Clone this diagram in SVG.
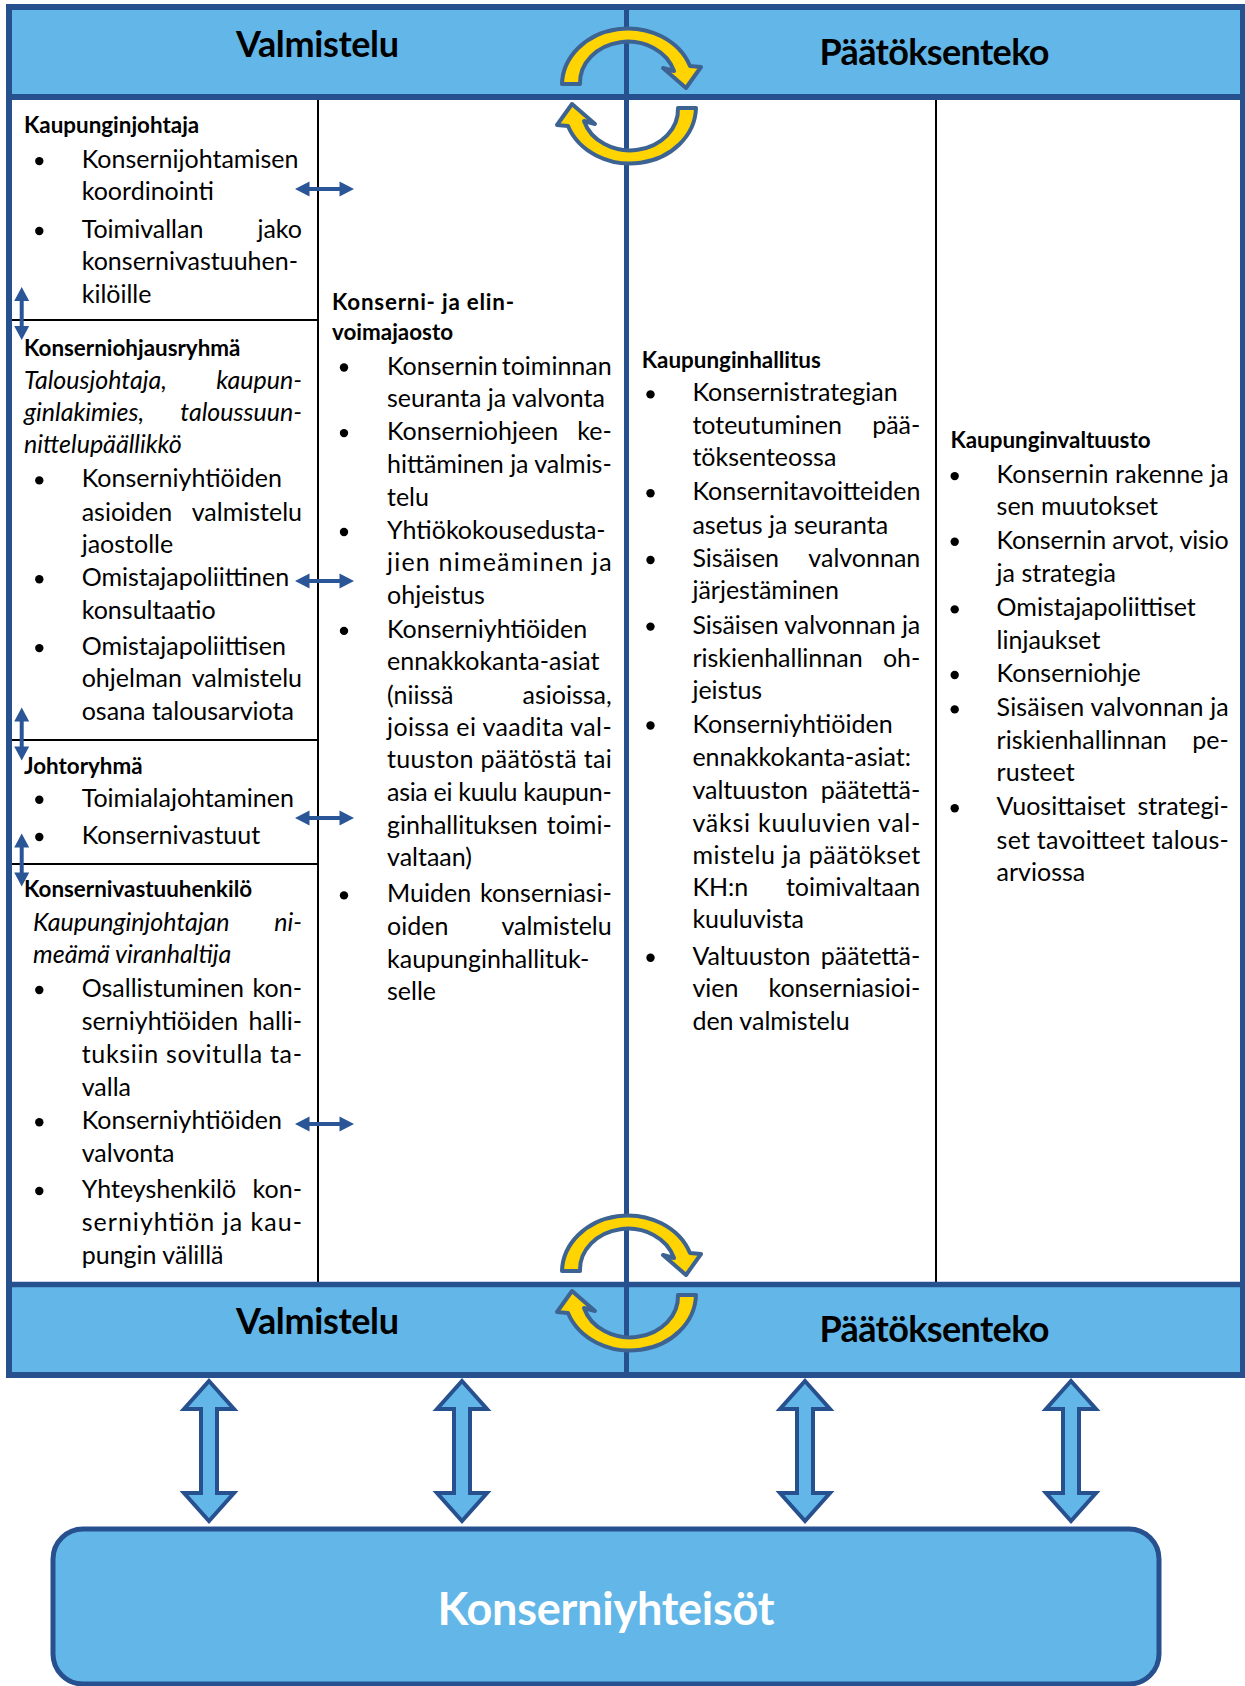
<svg xmlns="http://www.w3.org/2000/svg" xmlns:xlink="http://www.w3.org/1999/xlink" width="1245" height="1686" viewBox="0 0 1245 1686">
<style>
.band{fill:#62B7E8}
.frame{fill:none;stroke:#27508F;stroke-width:6}
.bl{stroke:#27508F}
.col{stroke:#000;stroke-width:2}
.t{font-family:Lato,"Open Sans",sans-serif;font-size:25px;fill:#000}
.h{font-family:Lato,"Open Sans",sans-serif;font-size:22.4px;font-weight:700;fill:#000}
.i{font-style:italic}
.e{text-anchor:end}
.title{font-family:Lato,"Open Sans",sans-serif;font-size:36px;font-weight:700;fill:#000;text-anchor:middle}
.bul{fill:#000}
.circ{fill:#FFD400;stroke:#3D6393;stroke-width:4;stroke-linejoin:round}
.sa{fill:#2A5597}
.ba{fill:#62B7E8;stroke:#27508F;stroke-width:4;stroke-linejoin:miter}
</style>
<defs>
<path id="cyc" d="M562,84 A66 57 0 0 1 690,66 L701,67 L686,88 L663,68 L674,71 A48 41 0 0 0 580,84 Z"/>
<path id="ha" d="M-29.5,0 L-15,-7.5 L-15,-2 L15,-2 L15,-7.5 L29.5,0 L15,7.5 L15,2 L-15,2 L-15,7.5 Z"/>
<path id="va" d="M0,-26.5 L7.5,-12.5 L2,-12.5 L2,12.5 L7.5,12.5 L0,26.5 L-7.5,12.5 L-2,12.5 L-2,-12.5 L-7.5,-12.5 Z"/>
<path id="big" d="M0,0 L25,28 L8,28 L8,112 L25,112 L0,140 L-25,112 L-8,112 L-8,28 L-25,28 Z"/>
</defs>

<g id="frame">
<rect class="band" x="9" y="7" width="1234" height="90"/>
<rect class="band" x="9" y="1284" width="1234" height="91"/>
<line class="col" x1="318" y1="97" x2="318" y2="1284"/>
<line class="col" x1="936" y1="97" x2="936" y2="1284"/>
<line class="col" x1="9" y1="320" x2="318" y2="320"/>
<line class="col" x1="9" y1="740" x2="318" y2="740"/>
<line class="col" x1="9" y1="864" x2="318" y2="864"/>
<line class="bl" x1="626.5" y1="7" x2="626.5" y2="1375" stroke-width="5"/>
<line class="bl" x1="9" y1="97" x2="1243" y2="97" stroke-width="6"/>
<line class="bl" x1="9" y1="1284.5" x2="1243" y2="1284.5" stroke-width="5.5"/>
<rect class="frame" x="9" y="7" width="1234" height="1368"/>
</g>

<g id="header-top">
<text class="title" x="317.5" y="57" textLength="163" lengthAdjust="spacing">Valmistelu</text>
<text class="title" x="934.5" y="65" textLength="230" lengthAdjust="spacing">Päätöksenteko</text>
</g>
<g id="header-bottom">
<text class="title" x="317.5" y="1334" textLength="163" lengthAdjust="spacing">Valmistelu</text>
<text class="title" x="934.5" y="1342" textLength="230" lengthAdjust="spacing">Päätöksenteko</text>
</g>

<g id="cycle-top">
<use href="#cyc" class="circ"/>
<use href="#cyc" class="circ" transform="rotate(180 629 96)"/>
</g>
<g id="cycle-bottom" transform="translate(0,1187)">
<use href="#cyc" class="circ"/>
<use href="#cyc" class="circ" transform="rotate(180 629 96)"/>
</g>

<g id="kaupunginjohtaja">
<text class="h" x="24" y="133.3">Kaupunginjohtaja</text>
<circle class="bul" cx="39.3" cy="161.1" r="4.2"/>
<text class="t" x="81.7" y="168.1">Konsernijohtamisen</text>
<text class="t" x="81.7" y="200.4">koordinointi</text>
<circle class="bul" cx="39.3" cy="231" r="4.2"/>
<text class="t"><tspan x="81.7" y="238">Toimivallan</tspan><tspan class="e" x="302">jako</tspan></text>
<text class="t" x="81.7" y="270.2">konsernivastuuhen-</text>
<text class="t" x="81.7" y="302.5">kilöille</text>
</g>

<g id="konserniohjausryhma">
<text class="h" x="24" y="355.8">Konserniohjausryhmä</text>
<text class="t i"><tspan x="24" y="388.5">Talousjohtaja,</tspan><tspan class="e" x="302">kaupun-</tspan></text>
<text class="t i"><tspan x="24" y="420.8">ginlakimies,</tspan><tspan class="e" x="302">taloussuun-</tspan></text>
<text class="t i" x="24" y="453">nittelupäällikkö</text>
<circle class="bul" cx="39.3" cy="480.4" r="4.2"/>
<text class="t" x="81.7" y="487.4">Konserniyhtiöiden</text>
<text class="t"><tspan x="81.7" y="520.7">asioiden</tspan><tspan class="e" x="302">valmistelu</tspan></text>
<text class="t" x="81.7" y="553">jaostolle</text>
<circle class="bul" cx="39.3" cy="579.3" r="4.2"/>
<text class="t" x="81.7" y="586.3">Omistajapoliittinen</text>
<text class="t" x="81.7" y="618.6">konsultaatio</text>
<circle class="bul" cx="39.3" cy="648.1" r="4.2"/>
<text class="t" x="81.7" y="655.1">Omistajapoliittisen</text>
<text class="t"><tspan x="81.7" y="687.4">ohjelman</tspan><tspan class="e" x="302">valmistelu</tspan></text>
<text class="t" x="81.7" y="720.3">osana talousarviota</text>
</g>

<g id="johtoryhma">
<text class="h" x="24" y="774">Johtoryhmä</text>
<circle class="bul" cx="39.3" cy="799.7" r="4.2"/>
<text class="t" x="81.7" y="806.7">Toimialajohtaminen</text>
<circle class="bul" cx="39.3" cy="837" r="4.2"/>
<text class="t" x="81.7" y="844">Konsernivastuut</text>
</g>

<g id="konsernivastuuhenkilo">
<text class="h" x="24" y="897.3">Konsernivastuuhenkilö</text>
<text class="t i"><tspan x="33" y="931">Kaupunginjohtajan</tspan><tspan class="e" x="302">ni-</tspan></text>
<text class="t i" x="33" y="963">meämä viranhaltija</text>
<circle class="bul" cx="39.3" cy="990" r="4.2"/>
<text class="t"><tspan x="81.7" y="997">Osallistuminen</tspan><tspan class="e" x="302">kon-</tspan></text>
<text class="t"><tspan x="81.7" y="1030.3">serniyhtiöiden</tspan><tspan class="e" x="302">halli-</tspan></text>
<text class="t" x="81.7" y="1062.6" textLength="220.3" lengthAdjust="spacing">tuksiin sovitulla ta-</text>
<text class="t" x="81.7" y="1096">valla</text>
<circle class="bul" cx="39.3" cy="1122.3" r="4.2"/>
<text class="t" x="81.7" y="1129.3">Konserniyhtiöiden</text>
<text class="t" x="81.7" y="1161.5">valvonta</text>
<circle class="bul" cx="39.3" cy="1191" r="4.2"/>
<text class="t"><tspan x="81.7" y="1198">Yhteyshenkilö</tspan><tspan class="e" x="302">kon-</tspan></text>
<text class="t" x="81.7" y="1231.4" textLength="220.3" lengthAdjust="spacing">serniyhtiön ja kau-</text>
<text class="t" x="81.7" y="1263.6">pungin välillä</text>
</g>

<g id="konserni-ja-elinvoimajaosto">
<text class="h" x="332" y="309.6" textLength="182" lengthAdjust="spacing">Konserni- ja elin-</text>
<text class="h" x="332" y="339.7">voimajaosto</text>
<circle class="bul" cx="344" cy="367.5" r="4.2"/>
<text class="t"><tspan x="387" y="374.5">Konsernin</tspan><tspan class="e" x="611.7">toiminnan</tspan></text>
<text class="t" x="387" y="406.8">seuranta ja valvonta</text>
<circle class="bul" cx="344" cy="433.1" r="4.2"/>
<text class="t"><tspan x="387" y="440.1">Konserniohjeen</tspan><tspan class="e" x="611.7">ke-</tspan></text>
<text class="t" x="387" y="473.4" textLength="224.7" lengthAdjust="spacing">hittäminen ja valmis-</text>
<text class="t" x="387" y="505.7">telu</text>
<circle class="bul" cx="344" cy="532" r="4.2"/>
<text class="t" x="387" y="539">Yhtiökokousedusta-</text>
<text class="t" x="387" y="571.3" textLength="224.7" lengthAdjust="spacing">jien nimeäminen ja</text>
<text class="t" x="387" y="603.5">ohjeistus</text>
<circle class="bul" cx="344" cy="630.9" r="4.2"/>
<text class="t" x="387" y="637.9">Konserniyhtiöiden</text>
<text class="t" x="387" y="670.2">ennakkokanta-asiat</text>
<text class="t"><tspan x="387" y="703.5">(niissä</tspan><tspan class="e" x="611.7">asioissa,</tspan></text>
<text class="t" x="387" y="735.8" textLength="224.7" lengthAdjust="spacing">joissa ei vaadita val-</text>
<text class="t" x="387" y="768" textLength="224.7" lengthAdjust="spacing">tuuston päätöstä tai</text>
<text class="t" x="387" y="801.3" textLength="224.7" lengthAdjust="spacing">asia ei kuulu kaupun-</text>
<text class="t"><tspan x="387" y="833.6">ginhallituksen</tspan><tspan class="e" x="611.7">toimi-</tspan></text>
<text class="t" x="387" y="865.9">valtaan)</text>
<circle class="bul" cx="344" cy="895.4" r="4.2"/>
<text class="t"><tspan x="387" y="902.4">Muiden</tspan><tspan class="e" x="611.7">konserniasi-</tspan></text>
<text class="t"><tspan x="387" y="934.7">oiden</tspan><tspan class="e" x="611.7">valmistelu</tspan></text>
<text class="t" x="387" y="968">kaupunginhallituk-</text>
<text class="t" x="387" y="1000.2">selle</text>
</g>

<g id="kaupunginhallitus">
<text class="h" x="641.8" y="367.7">Kaupunginhallitus</text>
<circle class="bul" cx="650.5" cy="394.4" r="4.2"/>
<text class="t" x="692.4" y="401.4">Konsernistrategian</text>
<text class="t"><tspan x="692.4" y="433.7">toteutuminen</tspan><tspan class="e" x="920.3">pää-</tspan></text>
<text class="t" x="692.4" y="465.9">töksenteossa</text>
<circle class="bul" cx="650.5" cy="493.3" r="4.2"/>
<text class="t" x="692.4" y="500.3">Konsernitavoitteiden</text>
<text class="t" x="692.4" y="533.7">asetus ja seuranta</text>
<circle class="bul" cx="650.5" cy="560" r="4.2"/>
<text class="t"><tspan x="692.4" y="567">Sisäisen</tspan><tspan class="e" x="920.3">valvonnan</tspan></text>
<text class="t" x="692.4" y="599.2">järjestäminen</text>
<circle class="bul" cx="650.5" cy="626.6" r="4.2"/>
<text class="t" x="692.4" y="633.6" textLength="227.9" lengthAdjust="spacing">Sisäisen valvonnan ja</text>
<text class="t"><tspan x="692.4" y="667">riskienhallinnan</tspan><tspan class="e" x="920.3">oh-</tspan></text>
<text class="t" x="692.4" y="699.2">jeistus</text>
<circle class="bul" cx="650.5" cy="725.5" r="4.2"/>
<text class="t" x="692.4" y="732.5">Konserniyhtiöiden</text>
<text class="t" x="692.4" y="765.9">ennakkokanta-asiat:</text>
<text class="t"><tspan x="692.4" y="799.2">valtuuston</tspan><tspan class="e" x="920.3">päätettä-</tspan></text>
<text class="t" x="692.4" y="831.5" textLength="227.9" lengthAdjust="spacing">väksi kuuluvien val-</text>
<text class="t" x="692.4" y="863.7" textLength="227.9" lengthAdjust="spacing">mistelu ja päätökset</text>
<text class="t"><tspan x="692.4" y="896">KH:n</tspan><tspan class="e" x="920.3">toimivaltaan</tspan></text>
<text class="t" x="692.4" y="928.2">kuuluvista</text>
<circle class="bul" cx="650.5" cy="957.8" r="4.2"/>
<text class="t"><tspan x="692.4" y="964.8">Valtuuston</tspan><tspan class="e" x="920.3">päätettä-</tspan></text>
<text class="t"><tspan x="692.4" y="997">vien</tspan><tspan class="e" x="920.3">konserniasioi-</tspan></text>
<text class="t" x="692.4" y="1030.3">den valmistelu</text>
</g>

<g id="kaupunginvaltuusto">
<text class="h" x="950.4" y="448.3">Kaupunginvaltuusto</text>
<circle class="bul" cx="954.7" cy="476.1" r="4.2"/>
<text class="t" x="996.6" y="483.1" textLength="232.2" lengthAdjust="spacing">Konsernin rakenne ja</text>
<text class="t" x="996.6" y="515.4">sen muutokset</text>
<circle class="bul" cx="954.7" cy="541.7" r="4.2"/>
<text class="t" x="996.6" y="548.7" textLength="232.2" lengthAdjust="spacing">Konsernin arvot, visio</text>
<text class="t" x="996.6" y="582">ja strategia</text>
<circle class="bul" cx="954.7" cy="609.4" r="4.2"/>
<text class="t" x="996.6" y="616.4">Omistajapoliittiset</text>
<text class="t" x="996.6" y="648.7">linjaukset</text>
<circle class="bul" cx="954.7" cy="675" r="4.2"/>
<text class="t" x="996.6" y="682">Konserniohje</text>
<circle class="bul" cx="954.7" cy="709.4" r="4.2"/>
<text class="t" x="996.6" y="716.4" textLength="232.2" lengthAdjust="spacing">Sisäisen valvonnan ja</text>
<text class="t"><tspan x="996.6" y="748.7">riskienhallinnan</tspan><tspan class="e" x="1228.8">pe-</tspan></text>
<text class="t" x="996.6" y="780.9">rusteet</text>
<circle class="bul" cx="954.7" cy="808.3" r="4.2"/>
<text class="t"><tspan x="996.6" y="815.3">Vuosittaiset</tspan><tspan class="e" x="1228.8">strategi-</tspan></text>
<text class="t" x="996.6" y="848.7" textLength="232.2" lengthAdjust="spacing">set tavoitteet talous-</text>
<text class="t" x="996.6" y="880.9">arviossa</text>
</g>

<g id="konserniyhteisot">
<rect x="53" y="1529" width="1106" height="155" rx="30" ry="30" fill="#62B7E8" stroke="#27508F" stroke-width="5"/>
<text x="606" y="1625" font-family="Lato,'Open Sans',sans-serif" font-size="45" font-weight="700" fill="#FFFFFF" text-anchor="middle" textLength="337" lengthAdjust="spacing">Konserniyhteisöt</text>
</g>

<g id="connectors">
<use href="#ha" class="sa" x="324.5" y="189"/>
<use href="#ha" class="sa" x="324.5" y="581"/>
<use href="#ha" class="sa" x="324.5" y="818"/>
<use href="#ha" class="sa" x="324.5" y="1124"/>
<use href="#va" class="sa" x="21.7" y="313.5"/>
<use href="#va" class="sa" x="21.7" y="734"/>
<use href="#va" class="sa" x="21.7" y="860"/>
<use href="#big" class="ba" x="209" y="1381"/>
<use href="#big" class="ba" x="462" y="1381"/>
<use href="#big" class="ba" x="805" y="1381"/>
<use href="#big" class="ba" x="1071" y="1381"/>
</g>
</svg>
